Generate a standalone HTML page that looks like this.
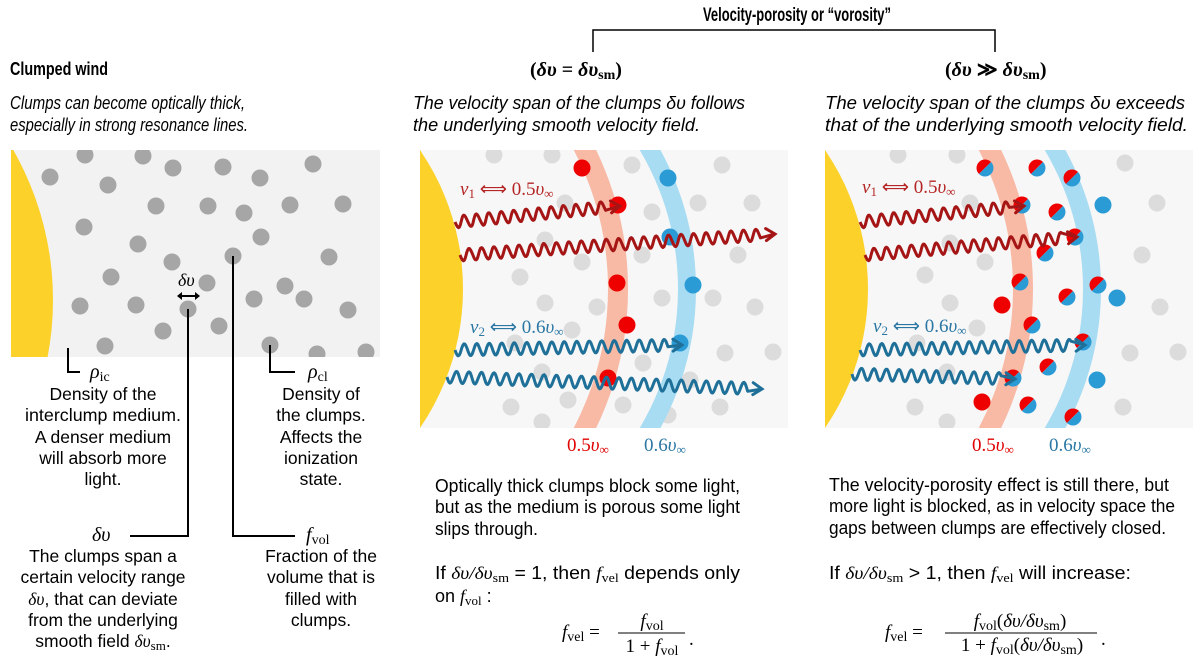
<!DOCTYPE html>
<html><head><meta charset="utf-8">
<style>
html,body{margin:0;padding:0;background:#fff;}
svg{display:block;}
.s{font-family:"Liberation Sans",sans-serif;fill:#000;}
.m{font-family:"Liberation Serif",serif;font-style:italic;}
.mu{font-family:"Liberation Serif",serif;}
</style></head>
<body>
<svg id="sv" width="1200" height="660" viewBox="0 0 1200 660" xmlns="http://www.w3.org/2000/svg">
<defs>
<clipPath id="c1"><rect x="11" y="150" width="369" height="207"/></clipPath>
<clipPath id="c2"><rect x="420" y="150" width="368" height="278"/></clipPath>
<clipPath id="c3"><rect x="825" y="150" width="368" height="278"/></clipPath>
</defs>
<rect x="11" y="150" width="369" height="207" fill="#f2f2f2"/>
<rect x="420" y="150" width="368" height="278" fill="#f7f7f7"/>
<rect x="825" y="150" width="368" height="278" fill="#f7f7f7"/>
<g clip-path="url(#c1)"><circle cx="-250" cy="300" r="303" fill="#fcd12a"/><g id="d1"></g></g>
<g clip-path="url(#c2)">
 <g id="g2"></g>
 <circle cx="309" cy="289" r="309" fill="none" stroke="#f8b9a5" stroke-width="20"/>
 <circle cx="407" cy="289" r="280" fill="none" stroke="#a8dcf2" stroke-width="18"/>
 <circle cx="217" cy="289" r="246" fill="#fcd12a"/>
 <g id="c2d"></g><g id="w2"></g>
</g>
<g clip-path="url(#c3)">
 <g id="g3"></g>
 <circle cx="714" cy="289" r="309" fill="none" stroke="#f8b9a5" stroke-width="20"/>
 <circle cx="812" cy="289" r="280" fill="none" stroke="#a8dcf2" stroke-width="18"/>
 <circle cx="622" cy="289" r="246" fill="#fcd12a"/>
 <g id="c3d"></g><g id="w3"></g>
</g>

<g stroke="#000" stroke-width="2" fill="none">
 <polyline points="68,348 68,372 80,372"/>
 <polyline points="188,309 188,536 130,536"/>
 <polyline points="233,256 233,536 295,536"/>
 <polyline points="270,345 270,372 295,372"/>
 <line x1="180" y1="296" x2="197" y2="296" stroke-width="2"/>
</g>
<path d="M177,296 l5,-4 v8 z M200,296 l-5,-4 v8 z" fill="#000"/>
<text x="178" y="286" class="m" font-size="18">δυ</text>

<text x="90" y="378" class="m" font-size="20">ρ<tspan class="mu" font-style="normal" font-size="14" dy="3">ic</tspan></text>
<text x="308" y="378" class="m" font-size="20">ρ<tspan class="mu" font-style="normal" font-size="14" dy="3">cl</tspan></text>
<text x="92" y="541" class="m" font-size="20">δυ</text>
<text x="306" y="541" class="m" font-size="20">f<tspan class="mu" font-style="normal" font-size="14" dy="3">vol</tspan></text>

<g class="s" font-size="17.5" text-anchor="middle">
 <text x="103" y="400">Density of the</text>
 <text x="103" y="421" textLength="156" lengthAdjust="spacingAndGlyphs">interclump medium.</text>
 <text x="103" y="443">A denser medium</text>
 <text x="103" y="464">will absorb more</text>
 <text x="103" y="485">light.</text>
 <text x="321" y="400">Density of</text>
 <text x="321" y="421">the clumps.</text>
 <text x="321" y="443">Affects the</text>
 <text x="321" y="464">ionization</text>
 <text x="321" y="485">state.</text>
 <text x="103" y="562">The clumps span a</text>
 <text x="103" y="583" textLength="165" lengthAdjust="spacingAndGlyphs">certain velocity range</text>
 <text x="103" y="605"><tspan class="m">δυ</tspan>, that can deviate</text>
 <text x="103" y="626">from the underlying</text>
 <text x="103" y="647">smooth field <tspan class="m">δυ</tspan><tspan class="mu" font-size="13" dy="3">sm</tspan><tspan dy="-3">.</tspan></text>
 <text x="321" y="562">Fraction of the</text>
 <text x="321" y="583">volume that is</text>
 <text x="321" y="605">filled with</text>
 <text x="321" y="626">clumps.</text>
</g>

<text x="10" y="75" class="s" font-size="18" font-weight="bold" textLength="98" lengthAdjust="spacingAndGlyphs">Clumped wind</text>
<g class="s" font-size="18" font-style="italic">
 <text x="10" y="109" textLength="235" lengthAdjust="spacingAndGlyphs">Clumps can become optically thick,</text>
 <text x="10" y="131" textLength="238" lengthAdjust="spacingAndGlyphs">especially in strong resonance lines.</text>
 <text x="413" y="109" textLength="332" lengthAdjust="spacingAndGlyphs">The velocity span of the clumps δυ follows</text>
 <text x="413" y="131" textLength="287" lengthAdjust="spacingAndGlyphs">the underlying smooth velocity field.</text>
 <text x="825" y="109" textLength="360" lengthAdjust="spacingAndGlyphs">The velocity span of the clumps δυ exceeds</text>
 <text x="825" y="131" textLength="363" lengthAdjust="spacingAndGlyphs">that of the underlying smooth velocity field.</text>
</g>
<text x="703" y="21" class="s" font-size="19" font-weight="bold" textLength="188" lengthAdjust="spacingAndGlyphs">Velocity-porosity or “vorosity”</text>
<polyline points="593,52 593,30 995,30 995,52" fill="none" stroke="#000" stroke-width="1.5"/>
<text x="530" y="76" class="mu" font-size="20" font-weight="bold">(<tspan font-style="italic">δυ</tspan> = <tspan font-style="italic">δυ</tspan><tspan font-size="14" dy="3">sm</tspan><tspan dy="-3">)</tspan></text>
<text x="945" y="76" class="mu" font-size="20" font-weight="bold">(<tspan font-style="italic">δυ</tspan> ≫ <tspan font-style="italic">δυ</tspan><tspan font-size="14" dy="3">sm</tspan><tspan dy="-3">)</tspan></text>

<text x="460" y="195" class="m" font-size="19" fill="#b52525">ν<tspan font-style="normal" font-size="13" dy="3">1</tspan><tspan dy="-3" font-style="normal"> ⟺ </tspan><tspan font-style="normal">0.5</tspan>υ<tspan font-style="normal" font-size="13" dy="3">∞</tspan></text>
<text x="470" y="333" class="m" font-size="19" fill="#2a77a4">ν<tspan font-style="normal" font-size="13" dy="3">2</tspan><tspan dy="-3" font-style="normal"> ⟺ </tspan><tspan font-style="normal">0.6</tspan>υ<tspan font-style="normal" font-size="13" dy="3">∞</tspan></text>
<text x="862" y="193" class="m" font-size="19" fill="#b52525">ν<tspan font-style="normal" font-size="13" dy="3">1</tspan><tspan dy="-3" font-style="normal"> ⟺ </tspan><tspan font-style="normal">0.5</tspan>υ<tspan font-style="normal" font-size="13" dy="3">∞</tspan></text>
<text x="873" y="332" class="m" font-size="19" fill="#2a77a4">ν<tspan font-style="normal" font-size="13" dy="3">2</tspan><tspan dy="-3" font-style="normal"> ⟺ </tspan><tspan font-style="normal">0.6</tspan>υ<tspan font-style="normal" font-size="13" dy="3">∞</tspan></text>
<text x="567" y="451" class="m" font-size="19" fill="#e00000"><tspan font-style="normal">0.5</tspan>υ<tspan font-style="normal" font-size="13" dy="3">∞</tspan></text>
<text x="644" y="451" class="m" font-size="19" fill="#2a77a4"><tspan font-style="normal">0.6</tspan>υ<tspan font-style="normal" font-size="13" dy="3">∞</tspan></text>
<text x="972" y="451" class="m" font-size="19" fill="#e00000"><tspan font-style="normal">0.5</tspan>υ<tspan font-style="normal" font-size="13" dy="3">∞</tspan></text>
<text x="1049" y="451" class="m" font-size="19" fill="#2a77a4"><tspan font-style="normal">0.6</tspan>υ<tspan font-style="normal" font-size="13" dy="3">∞</tspan></text>

<g class="s" font-size="18">
 <text x="435" y="492" textLength="305" lengthAdjust="spacingAndGlyphs">Optically thick clumps block some light,</text>
 <text x="435" y="513" textLength="305" lengthAdjust="spacingAndGlyphs">but as the medium is porous some light</text>
 <text x="435" y="535" textLength="103" lengthAdjust="spacingAndGlyphs">slips through.</text>
 <text x="435" y="579" textLength="305" lengthAdjust="spacingAndGlyphs">If <tspan class="m">δυ/δυ</tspan><tspan class="mu" font-size="13" dy="3">sm</tspan><tspan dy="-3"> = 1, then </tspan><tspan class="m">f</tspan><tspan class="mu" font-size="13" dy="3">vel</tspan><tspan dy="-3"> depends only</tspan></text>
 <text x="435" y="602">on <tspan class="m">f</tspan><tspan class="mu" font-size="13" dy="3">vol</tspan><tspan dy="-3"> :</tspan></text>
 <text x="829" y="491" textLength="340" lengthAdjust="spacingAndGlyphs">The velocity-porosity effect is still there, but</text>
 <text x="829" y="512" textLength="346" lengthAdjust="spacingAndGlyphs">more light is blocked, as in velocity space the</text>
 <text x="829" y="534" textLength="337" lengthAdjust="spacingAndGlyphs">gaps between clumps are effectively closed.</text>
 <text x="829" y="579" textLength="302" lengthAdjust="spacingAndGlyphs">If <tspan class="m">δυ/δυ</tspan><tspan class="mu" font-size="13" dy="3">sm</tspan><tspan dy="-3"> &gt; 1, then </tspan><tspan class="m">f</tspan><tspan class="mu" font-size="13" dy="3">vel</tspan><tspan dy="-3"> will increase:</tspan></text>
</g>
<g class="mu" font-size="19">
 <text x="562" y="638"><tspan font-style="italic">f</tspan><tspan font-size="14" dy="3">vel</tspan><tspan dy="-3"> =</tspan></text>
 <text x="652" y="627" text-anchor="middle"><tspan font-style="italic">f</tspan><tspan font-size="14" dy="3">vol</tspan></text>
 <line x1="618" y1="633" x2="685" y2="633" stroke="#000" stroke-width="1"/>
 <text x="652" y="652" text-anchor="middle">1 + <tspan font-style="italic">f</tspan><tspan font-size="14" dy="3">vol</tspan></text>
 <text x="689" y="645">.</text>
 <text x="885" y="638"><tspan font-style="italic">f</tspan><tspan font-size="14" dy="3">vel</tspan><tspan dy="-3"> =</tspan></text>
 <text x="1020" y="627" text-anchor="middle"><tspan font-style="italic">f</tspan><tspan font-size="14" dy="3">vol</tspan><tspan dy="-3">(</tspan><tspan font-style="italic">δυ/δυ</tspan><tspan font-size="14" dy="3">sm</tspan><tspan dy="-3">)</tspan></text>
 <line x1="945" y1="633" x2="1097" y2="633" stroke="#000" stroke-width="1"/>
 <text x="1022" y="651" text-anchor="middle">1 + <tspan font-style="italic">f</tspan><tspan font-size="14" dy="3">vol</tspan><tspan dy="-3">(</tspan><tspan font-style="italic">δυ/δυ</tspan><tspan font-size="14" dy="3">sm</tspan><tspan dy="-3">)</tspan></text>
 <text x="1101" y="645">.</text>
</g>
</svg>
<script>
var NS="http://www.w3.org/2000/svg";
function el(p,t,a){var e=document.createElementNS(NS,t);for(var k in a)e.setAttribute(k,a[k]);document.getElementById(p).appendChild(e);return e;}
var L=[[50,177],[85,155],[108,185],[143,156],[173,168],[223,167],[260,178],[313,164],[156,206],[208,206],[244,213],[290,205],[343,204],[84,227],[138,244],[261,237],[233,256],[172,262],[329,257],[111,277],[207,283],[285,286],[80,306],[136,305],[254,299],[304,299],[348,310],[188,309],[163,331],[219,326],[105,346],[270,345],[317,354],[366,352]];
L.forEach(function(p){el("d1","circle",{cx:p[0],cy:p[1],r:8.5,fill:"#a6a6a6"});});
var G2=[[494,155],[552,155],[632,165],[722,165],[565,203],[652,212],[698,203],[752,203],[545,240],[582,262],[642,255],[738,255],[520,277],[545,303],[597,307],[662,298],[713,298],[755,307],[572,330],[515,343],[643,363],[725,353],[773,352],[542,372],[690,380],[511,407],[568,400],[623,405],[720,407],[668,415],[542,422]];
G2.forEach(function(p){el("g2","circle",{cx:p[0],cy:p[1],r:8.5,fill:"#dcdcdc"});});
[[582,168],[618,205],[617,283],[627,325],[608,378]].forEach(function(p){el("c2d","circle",{cx:p[0],cy:p[1],r:8.5,fill:"#ee0000"});});
[[668,178],[670,237],[693,285],[680,343]].forEach(function(p){el("c2d","circle",{cx:p[0],cy:p[1],r:8.5,fill:"#2b9bd6"});});
var G3=[[898,155],[957,155],[1125,163],[970,203],[1157,203],[950,243],[985,262],[1142,255],[925,275],[950,303],[1160,307],[977,328],[917,343],[1130,353],[1178,352],[947,372],[915,407],[1123,407],[947,422]];
G3.forEach(function(p){el("g3","circle",{cx:p[0],cy:p[1],r:8.5,fill:"#dcdcdc"});});
var S=[[985,168],[1037,168],[1072,178],[1022,205],[1057,212],[1075,237],[1045,253],[1020,282],[1098,285],[1067,297],[1032,325],[1083,342],[1048,367],[1013,378],[1028,405],[1073,417]];
S.forEach(function(p){var r=8.5,c=0.7071,x1=p[0]+c*r,y1=p[1]-c*r,x2=p[0]-c*r,y2=p[1]+c*r;
el("c3d","path",{d:"M"+x1+","+y1+" A"+r+","+r+" 0 0 0 "+x2+","+y2+" Z",fill:"#ee0000"});
el("c3d","path",{d:"M"+x1+","+y1+" A"+r+","+r+" 0 0 1 "+x2+","+y2+" Z",fill:"#2b9bd6"});});
[[1002,305],[982,402]].forEach(function(p){el("c3d","circle",{cx:p[0],cy:p[1],r:8.5,fill:"#ee0000"});});
[[1103,205],[1117,298],[1097,380]].forEach(function(p){el("c3d","circle",{cx:p[0],cy:p[1],r:8.5,fill:"#2b9bd6"});});
function wave(g,x1,y1,x2,y2,col){
 var dx=x2-x1,dy=y2-y1,len=Math.sqrt(dx*dx+dy*dy),ux=dx/len,uy=dy/len,nx=-uy,ny=ux;
 var wl=len-14,d="M"+x1+","+y1,per=12.5,amp=6;
 for(var t=0;t<=wl;t+=1){var a=amp*Math.sin(t/per*2*Math.PI);d+=" L"+(x1+ux*t+nx*a).toFixed(1)+","+(y1+uy*t+ny*a).toFixed(1);}
 d+=" L"+x2+","+y2;
 el(g,"path",{d:d,fill:"none",stroke:col,"stroke-width":3,"stroke-linejoin":"round"});
 var bx=x2-ux*9,by=y2-uy*9;
 el(g,"path",{d:"M"+(bx+nx*6)+","+(by+ny*6)+" L"+x2+","+y2+" L"+(bx-nx*6)+","+(by-ny*6),fill:"none",stroke:col,"stroke-width":3,"stroke-linecap":"round"});
}
var R="#a51515",B="#1f7099";
wave("w2",455,222,620,206,R);wave("w2",460,255,775,234,R);wave("w2",455,350,682,345,B);wave("w2",447,377,762,389,B);
wave("w3",860,222,1024,206,R);wave("w3",865,255,1077,237,R);wave("w3",860,350,1085,345,B);wave("w3",852,374,1015,379,B);
</script>
</body></html>
